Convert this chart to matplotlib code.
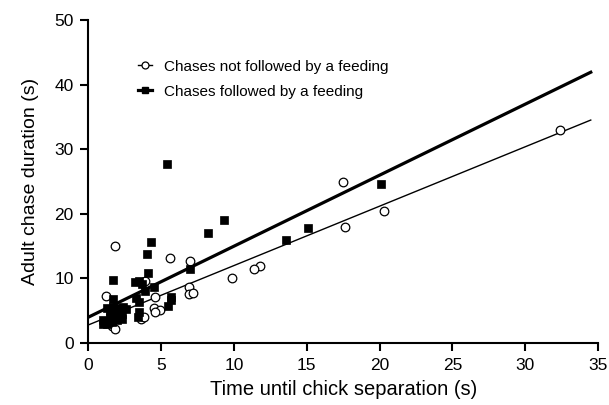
import matplotlib
matplotlib.use("Agg")
import matplotlib.pyplot as plt
import numpy as np

plt.rcParams['font.family'] = ['Liberation Sans', 'DejaVu Sans']

# Chases not followed by a feeding (open circles)
no_feed_x = [32.4, 17.5, 20.3, 17.6, 11.8, 11.4, 9.9, 1.8, 5.6, 7.0, 6.9, 6.9, 7.2,
             3.9, 1.2, 4.6, 4.5, 4.9, 4.6, 3.6, 3.8, 1.6, 1.8]
no_feed_y = [33.0, 25.0, 20.4, 17.9, 11.9, 11.4, 10.1, 15.1, 13.1, 12.7, 8.7, 7.6, 7.7,
             9.6, 7.3, 7.1, 5.5, 5.1, 4.8, 3.8, 4.0, 2.6, 2.2]

# Chases followed by a feeding (filled squares)
feed_x = [20.1, 15.1, 13.6, 5.4, 9.3, 8.2, 4.3, 4.0, 4.1, 7.0, 1.7, 3.2, 3.5, 3.7,
          3.9, 4.5, 3.3, 3.5, 5.7, 5.7, 5.5, 3.5, 3.4, 1.7,
          1.0, 1.0, 1.3, 1.3, 1.5, 1.7, 2.0, 2.2, 2.4, 1.8, 2.0, 2.3, 1.5, 2.6, 2.0, 1.6, 2.3]
feed_y = [24.7, 17.8, 16.0, 27.7, 19.0, 17.1, 15.6, 13.8, 10.9, 11.5, 9.7, 9.5, 9.6, 9.2,
          8.0, 8.7, 6.9, 6.3, 7.2, 6.6, 5.8, 4.8, 4.1, 6.8,
          3.0, 3.5, 2.9, 5.5, 5.0, 5.6, 5.4, 5.0, 5.6, 4.5, 4.0, 4.5, 4.0, 5.2, 3.5, 3.3, 3.8]

# Regression fits (intercept, slope) and fitted x range
fit_no_feed = [2.8, 0.92]
fit_feed = [4.0, 1.10]
fit_range = [0.0, 34.5]

x_ticks = [0, 5, 10, 15, 20, 25, 30, 35]
y_ticks = [0, 10, 20, 30, 40, 50]

fig = plt.figure(figsize=(6.09, 4.05), dpi=100)
ax = fig.add_axes([0.145, 0.153, 0.837, 0.797])

xr = np.array(fit_range)
ax.plot(xr, fit_no_feed[0] + fit_no_feed[1] * xr, color='black', lw=1.0, zorder=2)
ax.plot(xr, fit_feed[0] + fit_feed[1] * xr, color='black', lw=2.3, zorder=2)

ax.plot(no_feed_x, no_feed_y, linestyle='none', marker='o', ms=6.2, mfc='white',
        mec='black', mew=0.9, zorder=3, clip_on=False)
ax.plot(feed_x, feed_y, linestyle='none', marker='s', ms=5.2, mfc='black',
        mec='black', mew=0.5, zorder=3, clip_on=False)

# legend handles
h1, = ax.plot([], [], color='black', lw=1.0, marker='o', ms=5.0, mfc='white', mec='black', mew=0.9)
h2, = ax.plot([], [], color='black', lw=2.3, marker='s', ms=5.0, mfc='black', mec='black')
leg = ax.legend([h1, h2], ['Chases not followed by a feeding', 'Chases followed by a feeding'],
                loc='upper left', bbox_to_anchor=(0.098, 0.878), frameon=False,
                fontsize=11, handlelength=0.9, handletextpad=0.8, labelspacing=0.72,
                borderpad=0, borderaxespad=0)

ax.set_xlim(0, 35)
ax.set_ylim(0, 50)
ax.set_xticks(x_ticks)
ax.set_yticks(y_ticks)
for s in ['top', 'right']:
    ax.spines[s].set_visible(False)
for s in ['left', 'bottom']:
    ax.spines[s].set_linewidth(1.5)
ax.tick_params(direction='out', length=5.5, width=1.5, labelsize=12.5, pad=5)
ax.set_xlabel('Time until chick separation (s)', fontsize=14.5, labelpad=5)
ax.set_ylabel('Adult chase duration (s)', fontsize=14, labelpad=11)

fig.savefig('out.png', dpi=100)
